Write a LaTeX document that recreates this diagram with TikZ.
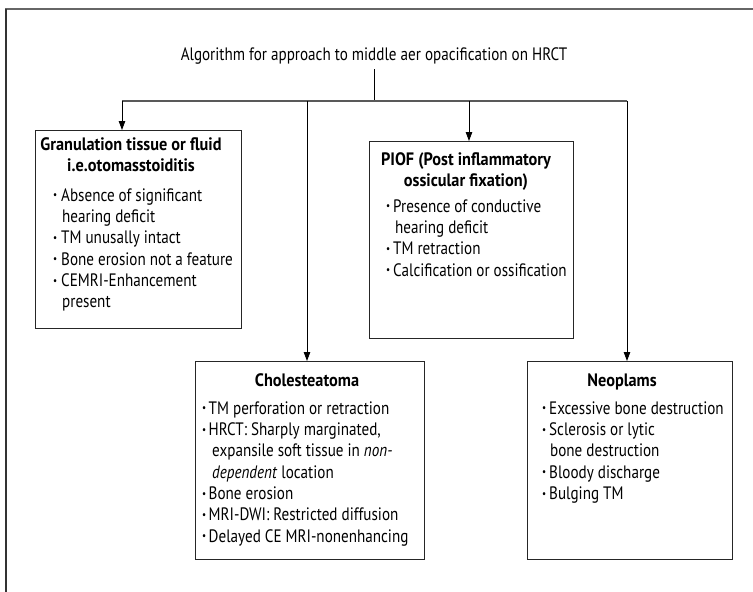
\documentclass[tikz,border=0pt]{standalone}
\usepackage{fontspec}
\setmainfont{PT Sans}[FakeStretch=0.84]
\newfontfamily\headfont{PT Sans}[FakeStretch=0.905]
\usetikzlibrary{arrows.meta}
\newcommand\bodyfont{\fontsize{18}{21.3}\selectfont}
\newcommand\bul[1]{\makebox[#1][l]{\raisebox{0.13em}{\scalebox{0.6}{\textbullet}}}}
\begin{document}
\begin{tikzpicture}[x=1pt,y=-1pt,
  boxst/.style={draw=black!85, line width=0.9pt, anchor=north west, inner sep=0pt},
  headst/.style={font=\bodyfont\headfont\bfseries, inner sep=0pt, align=center},
  listst/.style={font=\bodyfont, inner sep=0pt, align=left, anchor=north west},
  conn/.style={draw=black, line width=0.8pt},
  barst/.style={draw=black!65, line width=1.6pt},
  arr/.style={conn, -{Triangle[length=9pt,width=6.5pt]}},
  frame/.style={line width=1.4pt}]
\useasboundingbox (0,0) rectangle (753,592);
% frame
\draw[frame, black!60] (5,9) -- (753,9);
\draw[frame, black!80] (6,9) -- (6,592);
% title
\node[font=\bodyfont, inner sep=0pt, anchor=base] (title) at (374,60)
  {Algorithm for approach to middle aer opacification on HRCT};
% boxes
\node[boxst, minimum width=206pt, minimum height=198pt] (gran) at (35,130) {};
\node[boxst, minimum width=204pt, minimum height=197pt] (piof) at (369,141) {};
\node[boxst, minimum width=229pt, minimum height=198pt] (chol) at (195,361) {};
\node[boxst, minimum width=205pt, minimum height=198pt] (neo) at (527,361) {};
% headings
\node[headst, anchor=north] (granH) at (131,135.1) {\strut Granulation tissue or fluid\\i.e.otomasstoiditis};
\node[headst, anchor=north] (piofH) at (466,150.1) {\strut PIOF (Post inflammatory\\ossicular fixation)};
\node[headst, anchor=base] (cholH) at (307,386) {Cholesteatoma};
\node[headst, anchor=base] (neoH) at (622,386) {Neoplams};
% lists
\node[listst] (granL) at (53,186.1) {\strut\bul{8pt}Absence of significant\\
  \hspace*{9pt}hearing deficit\\
  \bul{8pt}TM unusally intact\\
  \bul{8pt}Bone erosion not a feature\\
  \bul{8pt}CEMRI-Enhancement\\
  \hspace*{9pt}present};
\node[listst] (piofL) at (386,197.1) {\strut\bul{7pt}Presence of conductive\\
  \hspace*{9pt}hearing deficit\\
  \bul{7pt}TM retraction\\
  \bul{7pt}Calcification or ossification};
\node[listst] (cholL) at (202,399.1) {\strut\bul{6.5pt}TM perforation or retraction\\
  \bul{6.5pt}HRCT: Sharply marginated,\\
  \hspace*{10pt}expansile soft tissue in \textit{non-}\\
  \hspace*{10pt}\textit{dependent} location\\
  \bul{6.5pt}Bone erosion\\
  \bul{6.5pt}MRI-DWI: Restricted diffusion\\
  \bul{6.5pt}Delayed CE MRI-nonenhancing};
\node[listst] (neoL) at (542,399.1) {\strut\bul{7pt}Excessive bone destruction\\
  \bul{7pt}Sclerosis or lytic\\
  \hspace*{8pt}bone destruction\\
  \bul{7pt}Bloody discharge\\
  \bul{7pt}Bulging TM};
% connectors
\coordinate (stemtop) at (374,69);
\coordinate (j) at (374,101);
\coordinate (barL) at (122,101);
\coordinate (barR) at (627,101);
\coordinate (cx) at (307,101);
\coordinate (px) at (469,101);
\draw[conn] (stemtop) -- (j);
\draw[barst] (barL) -- (barR);
\draw[arr] (barL) -- (barL |- gran.north);
\draw[arr] (cx) -- (cx |- chol.north);
\draw[arr] (px) -- (px |- piof.north);
\draw[arr] (barR) -- (barR |- neo.north);
\end{tikzpicture}
\end{document}
